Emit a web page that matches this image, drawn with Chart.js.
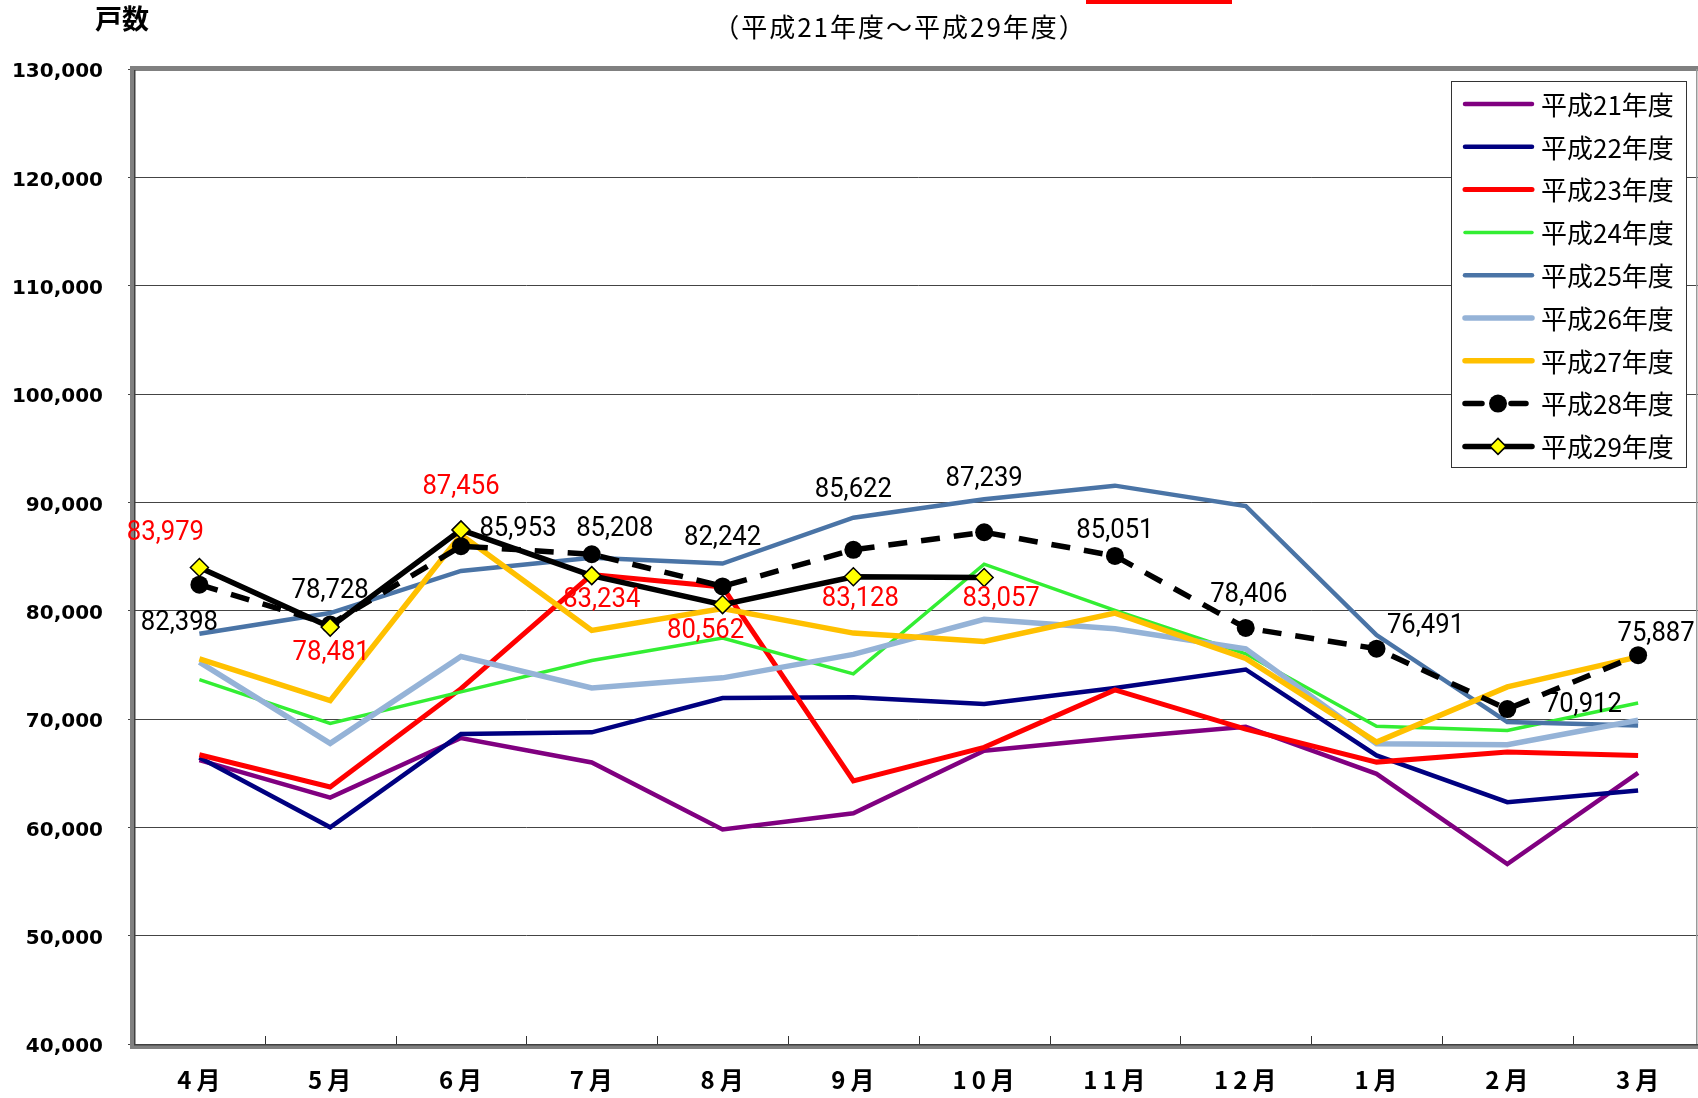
<!DOCTYPE html>
<html>
<head>
<meta charset="utf-8">
<script src="https://cdn.jsdelivr.net/npm/chart.js@4"></script>
<style>
  body { margin: 0; background: #fff; overflow: hidden; }
  canvas { display: block; }
</style>
</head>
<body>
<canvas id="grafico" width="1714" height="1098"></canvas>
<script>
// 月別の戸数（平成21年度～平成29年度）
const meses = ['4月', '5月', '6月', '7月', '8月', '9月', '10月', '11月', '12月', '1月', '2月', '3月'];
const nomes = ['平成21年度', '平成22年度', '平成23年度', '平成24年度', '平成25年度', '平成26年度', '平成27年度', '平成28年度', '平成29年度'];

const h21 = [66200, 62750, 68240, 65990, 59800, 61300, 67070, 68240, 69290, 64940, 56610, 65030];
const h22 = [66450, 60000, 68610, 68770, 71940, 72010, 71390, 72870, 74570, 66640, 62320, 63400];
const h23 = [66700, 63730, 72800, 83330, 82190, 64290, 67380, 72690, 69070, 66020, 66950, 66640];
const h24 = [73640, 69600, 72500, 75400, 77470, 74170, 84290, 80030, 76020, 69320, 68950, 71480];
const h25 = [77870, 79780, 83670, 84880, 84350, 88580, 90280, 91540, 89660, 77750, 69720, 69410];
const h26 = [75250, 67750, 75770, 72870, 73800, 75960, 79200, 78330, 76480, 67720, 67630, 69880];
const h27 = [75560, 71700, 87000, 78180, 80190, 77930, 77160, 79780, 75590, 67870, 72960, 75740];
const h28 = [82398, 78728, 85953, 85208, 82242, 85622, 87239, 85051, 78406, 76491, 70912, 75887];
const h29 = [83979, 78481, 87456, 83234, 80562, 83128, 83057, null, null, null, null, null];

const yTicks = [40000, 50000, 60000, 70000, 80000, 90000, 100000, 110000, 120000, 130000];

// posição dos rótulos (deslocamento em px a partir do ponto)
const pos28 = [[-20, 39], [0, -33], [57, -17], [23, -25], [0, -48], [0, -60], [0, -53], [0, -25], [3, -33], [49, -22], [76, -4], [18, -21]];
const pos29 = [[-34, -34], [1, 26], [0, -43], [10, 25], [-17, 27], [7, 22], [17, 22]];

const cores = ['#800080', '#000080', '#FF0000', '#33EE33', '#4A74A6', '#95B3D7', '#FFC000', '#000000', '#000000'];
const larguras = [4.5, 4.5, 5, 3.5, 4.5, 5.5, 5.5, 5.5, 5.5];
const series = [h21, h22, h23, h24, h25, h26, h27, h28, h29];

const fmt = v => v.toLocaleString('en-US');

const datasets = series.map((d, i) => ({
    label: nomes[i],
    data: d,
    borderColor: cores[i],
    backgroundColor: cores[i],
    borderWidth: larguras[i],
    pointRadius: 0,
    tension: 0,
    order: 9 - i
}));
// 平成28年度: tracejado com círculos
Object.assign(datasets[7], {
    borderDash: [19, 14],
    pointRadius: 9,
    pointStyle: 'circle',
    pointBackgroundColor: '#000',
    pointBorderWidth: 0
});
// 平成29年度: linha cheia com losangos amarelos
Object.assign(datasets[8], {
    pointRadius: 9,
    pointStyle: 'rectRot',
    pointBackgroundColor: '#FFFF00',
    pointBorderColor: '#000',
    pointBorderWidth: 1.5
});

const extras = {
    id: 'extras',
    afterDraw(chart) {
        const ctx = chart.ctx;
        const a = chart.chartArea;
        const xs = chart.scales.x;
        ctx.save();

        // bordas do gráfico
        ctx.fillStyle = '#808080';
        ctx.fillRect(131, a.top - 3, 1698 - 131, 5);
        ctx.fillRect(130, a.top - 3, 5, a.bottom - a.top + 8);
        ctx.fillRect(130, a.bottom, 1698 - 130, 5);
        ctx.fillStyle = '#404040';
        ctx.fillRect(134, a.top + 1, 1.5, a.bottom - a.top);
        ctx.fillRect(134, a.bottom, 1698 - 134, 1.5);
        ctx.fillStyle = '#9a9a9a';
        ctx.fillRect(1696, a.top, 1.5, a.bottom - a.top);

        // marcas entre meses
        ctx.strokeStyle = '#333';
        ctx.lineWidth = 1;
        for (let i = 1; i < meses.length; i++) {
            const x = Math.round((xs.getPixelForValue(i - 1) + xs.getPixelForValue(i)) / 2) + 0.5;
            ctx.beginPath();
            ctx.moveTo(x, a.bottom);
            ctx.lineTo(x, a.bottom - 8);
            ctx.stroke();
        }

        // rótulos do eixo x
        ctx.fillStyle = '#000';
        ctx.font = 'bold 24px "Noto Sans CJK JP"';
        ctx.textAlign = 'center';
        ctx.textBaseline = 'middle';
        ctx.letterSpacing = '5px';
        meses.forEach((m, i) => {
            ctx.fillText(m, xs.getPixelForValue(i) + 2, 1080);
        });
        ctx.letterSpacing = '0px';

        // rótulos de dados
        const rotulo = (txt, x, y, cor) => {
            ctx.save();
            ctx.translate(x, y);
            ctx.scale(0.95, 1);
            ctx.fillStyle = cor;
            ctx.font = '27px Roboto';
            ctx.textAlign = 'center';
            ctx.textBaseline = 'middle';
            ctx.fillText(txt, 0, 0);
            ctx.restore();
        };
        const m28 = chart.getDatasetMeta(7);
        h28.forEach((v, i) => {
            const p = m28.data[i];
            rotulo(fmt(v), p.x + pos28[i][0], p.y + pos28[i][1], '#000');
        });
        const m29 = chart.getDatasetMeta(8);
        h29.forEach((v, i) => {
            if (v === null) return;
            const p = m29.data[i];
            rotulo(fmt(v), p.x + pos29[i][0], p.y + pos29[i][1], '#FF0000');
        });

        // títulos
        ctx.fillStyle = '#000';
        ctx.font = 'bold 27px "Noto Sans CJK JP"';
        ctx.textBaseline = 'middle';
        ctx.textAlign = 'left';
        ctx.fillText('戸数', 95, 19);
        ctx.font = '26px "Noto Sans CJK JP"';
        ctx.textAlign = 'center';
        ctx.letterSpacing = '2px';
        ctx.fillText('（平成21年度～平成29年度）', 900, 27);
        ctx.letterSpacing = '0px';
        ctx.fillStyle = '#FF0000';
        ctx.fillRect(1086, 0, 146, 4);

        // legenda
        const lx = 1451, ly = 81, lw = 235, lh = 386;
        ctx.fillStyle = '#fff';
        ctx.fillRect(lx, ly, lw, lh);
        ctx.strokeStyle = '#333';
        ctx.lineWidth = 1;
        ctx.strokeRect(lx + 0.5, ly + 0.5, lw, lh);
        nomes.forEach((n, i) => {
            const y = ly + 23 + i * 42.8;
            ctx.strokeStyle = cores[i];
            ctx.lineWidth = larguras[i];
            ctx.lineCap = 'round';
            ctx.beginPath();
            if (i === 7) {
                ctx.moveTo(1465, y); ctx.lineTo(1482, y);
                ctx.moveTo(1511, y); ctx.lineTo(1526, y);
            } else {
                ctx.moveTo(1465, y); ctx.lineTo(1532, y);
            }
            ctx.stroke();
            if (i === 7) {
                ctx.fillStyle = '#000';
                ctx.beginPath();
                ctx.arc(1498, y, 9, 0, Math.PI * 2);
                ctx.fill();
            }
            if (i === 8) {
                ctx.fillStyle = '#FFFF00';
                ctx.strokeStyle = '#000';
                ctx.lineWidth = 1.5;
                ctx.beginPath();
                ctx.moveTo(1498, y - 8); ctx.lineTo(1506, y);
                ctx.lineTo(1498, y + 8); ctx.lineTo(1490, y);
                ctx.closePath();
                ctx.fill(); ctx.stroke();
            }
            ctx.fillStyle = '#000';
            ctx.font = '26px "Noto Sans CJK JP"';
            ctx.textAlign = 'left';
            ctx.fillText(n, 1541, y + 1);
        });
        ctx.restore();
    }
};

new Chart(document.getElementById('grafico'), {
    type: 'line',
    data: { labels: meses, datasets },
    options: {
        responsive: false,
        devicePixelRatio: 1,
        animation: false,
        layout: { padding: { top: 69, right: 0, left: 0, bottom: 0 } },
        plugins: {
            legend: { display: false },
            title: { display: false },
            tooltip: { enabled: false }
        },
        scales: {
            x: {
                offset: true,
                grid: { display: false },
                border: { display: false },
                ticks: { display: false },
                afterFit: s => { s.height = 54; }
            },
            y: {
                min: 40000,
                max: 130000,
                afterBuildTicks: s => { s.ticks = yTicks.map(v => ({ value: v })); },
                grid: { color: '#444', lineWidth: 1, tickLength: 6 },
                border: { display: false },
                ticks: {
                    color: '#000',
                    padding: 25,
                    labelOffset: 3,
                    callback: v => fmt(v),
                    font: { family: '"DejaVu Sans"', size: 20, weight: 'bold' }
                },
                afterFit: s => { s.width = 134; }
            }
        }
    },
    plugins: [extras]
});
</script>
</body>
</html>
